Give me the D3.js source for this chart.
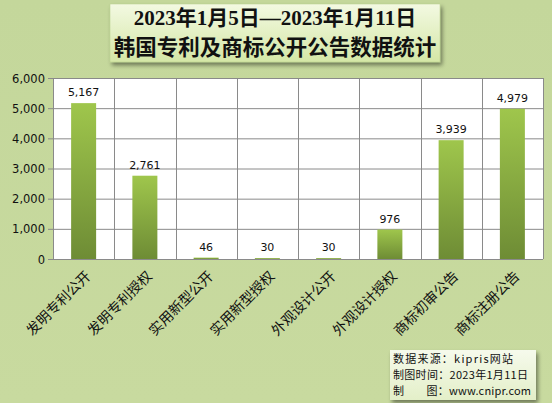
<!DOCTYPE html>
<html><head><meta charset="utf-8">
<script src="https://cdn.jsdelivr.net/npm/d3@7"></script>
<style>
html,body{margin:0;padding:0;background:#c6d89e;}
svg{display:block;}
</style></head>
<body>
<script>
const categories = ["发明专利公开","发明专利授权","实用新型公开","实用新型授权","外观设计公开","外观设计授权","商标初审公告","商标注册公告"];
const values = [5167, 2761, 46, 30, 30, 976, 3939, 4979];
const yTicks = [0, 1000, 2000, 3000, 4000, 5000, 6000];
const titleLines = ["2023年1月5日—2023年1月11日", "韩国专利及商标公开公告数据统计"];
const noteLines = ["数据来源：kipris网站", "制图时间：2023年1月11日", "制　　图：www.cnipr.com"];

const W = 552, H = 403;
const svg = d3.select("body").append("svg").attr("width", W).attr("height", H);
const defs = svg.append("defs");

const bg = defs.append("linearGradient").attr("id","bg").attr("x1",0).attr("y1",0).attr("x2",0).attr("y2",1);
bg.append("stop").attr("offset","0%").attr("stop-color","#c4d79b");
bg.append("stop").attr("offset","100%").attr("stop-color","#c8da9f");
svg.append("rect").attr("width",W).attr("height",H).attr("fill","url(#bg)");

const barG = defs.append("linearGradient").attr("id","barg").attr("x1",0).attr("y1",0).attr("x2",0).attr("y2",1);
barG.append("stop").attr("offset","0%").attr("stop-color","#9fc64c");
barG.append("stop").attr("offset","100%").attr("stop-color","#6e8c35");

const tg = defs.append("linearGradient").attr("id","tg").attr("x1",0).attr("y1",0).attr("x2",0).attr("y2",1);
tg.append("stop").attr("offset","0%").attr("stop-color","#f3f9e2");
tg.append("stop").attr("offset","100%").attr("stop-color","#d4e7a6");

const ng = defs.append("linearGradient").attr("id","ng").attr("x1",0).attr("y1",0).attr("x2",0).attr("y2",1);
ng.append("stop").attr("offset","0%").attr("stop-color","#f6faec");
ng.append("stop").attr("offset","100%").attr("stop-color","#e3efc8");

const sh = defs.append("filter").attr("id","sh").attr("x","-10%").attr("y","-20%").attr("width","130%").attr("height","160%");
sh.append("feGaussianBlur").attr("in","SourceAlpha").attr("stdDeviation",2);
sh.append("feOffset").attr("dx",2).attr("dy",3).attr("result","ob");
sh.append("feComponentTransfer").append("feFuncA").attr("type","linear").attr("slope",0.45);
const fm = sh.append("feMerge"); fm.append("feMergeNode"); fm.append("feMergeNode").attr("in","SourceGraphic");

const L = 53, R = 543, T = 78, B = 259;
const x = d3.scaleBand().domain(categories).range([L, R]).padding(0);
const y = d3.scaleLinear().domain([0, 6000]).range([B, T]);

// plot bg
svg.append("rect").attr("x",L).attr("y",T).attr("width",R-L).attr("height",B-T).attr("fill","#ffffff");

// horizontal gridlines
svg.append("g").selectAll("line").data(yTicks).join("line")
  .attr("x1",L-5).attr("x2",R).attr("y1",d=>y(d)+0.5).attr("y2",d=>y(d)+0.5)
  .attr("stroke","#8a8a8a").attr("stroke-width",1);
// vertical gridlines
const vlines = categories.map(c=>x(c)).concat([R]);
svg.append("g").selectAll("line").data(vlines).join("line")
  .attr("x1",d=>Math.round(d)+0.5).attr("x2",d=>Math.round(d)+0.5).attr("y1",T).attr("y2",B)
  .attr("stroke","#8a8a8a").attr("stroke-width",1);

// y axis labels
svg.append("g").selectAll("text").data(yTicks).join("text")
  .attr("x",45).attr("y",d=>y(d)+4.5).attr("text-anchor","end")
  .attr("font-family","DejaVu Sans, Verdana, sans-serif").attr("font-size",11.5).attr("fill","#111")
  .text(d=>d3.format(",")(d));

// bars
const bw = 25;
svg.append("g").selectAll("rect").data(values).join("rect")
  .attr("x",(d,i)=>x(categories[i])+x.bandwidth()/2-bw/2)
  .attr("width",bw)
  .attr("y",d=>y(d))
  .attr("height",d=>B-y(d))
  .attr("fill","url(#barg)");

// value labels
svg.append("g").selectAll("text").data(values).join("text")
  .attr("x",(d,i)=>x(categories[i])+x.bandwidth()/2)
  .attr("y",d=>y(d)-7)
  .attr("text-anchor","middle")
  .attr("font-family","DejaVu Sans, Verdana, sans-serif").attr("font-size",11).attr("fill","#111")
  .text(d=>d3.format(",")(d));

// x labels
svg.append("g").selectAll("text").data(categories).join("text")
  .attr("transform",d=>`translate(${x(d)+x.bandwidth()/2+8},${B+18}) rotate(-45)`)
  .attr("text-anchor","end")
  .attr("font-family","Noto Sans CJK SC, sans-serif").attr("font-size",14).attr("fill","#111")
  .text(d=>d);

// title box
const tb = svg.append("g");
tb.append("rect").attr("x",110).attr("y",4).attr("width",330).attr("height",58)
  .attr("fill","url(#tg)").attr("stroke","#b9cd8a").attr("stroke-width",0.5).attr("filter","url(#sh)");
tb.selectAll("text").data(titleLines).join("text")
  .attr("x",275).attr("y",(d,i)=>i===0?25:55).attr("text-anchor","middle")
  .attr("font-family",(d,i)=>i===0?"Liberation Serif, Noto Sans CJK SC, serif":"Noto Sans CJK SC, serif")
  .attr("font-weight","bold")
  .attr("font-size",(d,i)=>i===0?21:21.5).attr("fill","#111")
  .text(d=>d);

// note box
const nb = svg.append("g");
nb.append("rect").attr("x",390).attr("y",350).attr("width",146).attr("height",50)
  .attr("fill","url(#ng)").attr("filter","url(#sh)");
const noteLen = [120, 135, 138];
nb.selectAll("text").data(noteLines).join("text")
  .attr("x",393).attr("y",(d,i)=>363+i*16)
  .attr("font-family","Noto Sans CJK SC, sans-serif").attr("font-size",11)
  .attr("textLength",(d,i)=>noteLen[i]).attr("lengthAdjust","spacing").attr("fill","#111")
  .text(d=>d);
</script>
</body></html>
